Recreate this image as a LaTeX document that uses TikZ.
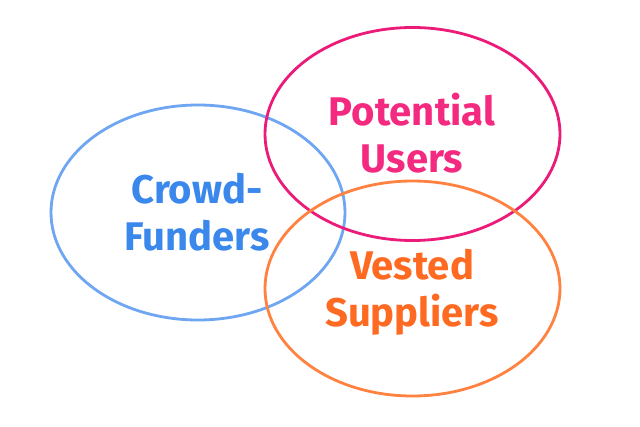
\documentclass[tikz,border=0pt]{standalone}
\usepackage{fontspec}
\setmainfont{Fira Sans}
\definecolor{cblue}{HTML}{6EA6F2}
\definecolor{cbluetext}{HTML}{3A88EC}
\definecolor{cpink}{HTML}{EC1A78}
\definecolor{cpinktext}{HTML}{F42A80}
\definecolor{corange}{HTML}{FF8240}
\definecolor{corangetext}{HTML}{FF6A22}
\begin{document}
\begin{tikzpicture}[x=1pt,y=-1pt,
  ring/.style={line width=2.8pt},
  lbl/.style={font=\fontsize{40}{47}\selectfont\bfseries, align=center, inner sep=0pt}]
\useasboundingbox (0,0) rectangle (640,426);
\fill[white] (0,0) rectangle (640,426);
\draw[ring, cblue] (198,212.5) ellipse [x radius=147, y radius=107.5];
\draw[ring, cpink] (412.5,134) ellipse [x radius=147.5, y radius=106.5];
\draw[ring, corange] (412.5,288.5) ellipse [x radius=147.5, y radius=107.5];
\node[lbl, text=cbluetext] (cf) at (197,212) {Crowd-\\Funders};
\node[lbl, text=cpinktext] (pu) at (412,133) {Potential\\Users};
\node[lbl, text=corangetext] (vs) at (412,292) {Vested\\Suppliers};
\end{tikzpicture}
\end{document}
